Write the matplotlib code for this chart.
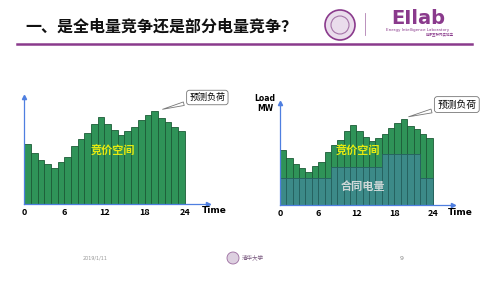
import matplotlib
matplotlib.use("Agg")
import matplotlib.pyplot as plt
from matplotlib.patches import Circle

plt.rcParams['font.family'] = ['Noto Sans CJK SC', 'DejaVu Sans']

# hourly forecast load (arbitrary MW units)
hours = list(range(24))
load = [60, 51, 44, 40, 36, 42, 47, 58, 65, 71, 80, 87,
        80, 74, 69, 73, 77, 84, 89, 93, 86, 82, 77, 73]
# contracted energy in the right panel
contract = [29, 29, 29, 29, 29, 29, 29, 29,
            41, 41, 41, 41, 41, 41, 41, 41,
            55, 55, 55, 55, 55, 55, 29, 29]
xticks = [0, 6, 12, 18, 24]

title = "一、是全电量竞争还是部分电量竞争？"
green = '#2f9358'
green_edge = '#1c5c37'
teal = '#3c8a88'
teal_edge = '#25605e'
blue = '#4f7fe0'
purple = '#8a3a8c'

fig = plt.figure(figsize=(4.88, 2.82), dpi=100)
W, H = 488, 282


def axes_px(x0, y0, x1, y1):
    # rectangle given in image pixels (top-left origin)
    return fig.add_axes([x0 / W, 1 - y1 / H, (x1 - x0) / W, (y1 - y0) / H])


def seal(x, y, r, fc, ec, lw):
    # round badge, position/radius in image pixels
    c = Circle((x / 100, (H - y) / 100), r / 100, transform=fig.dpi_scale_trans,
               fc=fc, ec=ec, lw=lw)
    fig.add_artist(c)


def style_axes(ax):
    for s in ['top', 'right']:
        ax.spines[s].set_visible(False)
    for s in ['left', 'bottom']:
        ax.spines[s].set_color(blue)
        ax.spines[s].set_linewidth(0.9)
    ax.set_yticks([])
    ax.set_xticks(xticks)
    ax.tick_params(axis='x', length=0, pad=3, labelsize=6.5)
    for lb in ax.get_xticklabels():
        lb.set_fontweight('bold')
    ax.plot(0, 1, marker='^', ms=3, color=blue, transform=ax.transAxes, clip_on=False)
    ax.plot(1, 0, marker='>', ms=3, color=blue, transform=ax.transAxes, clip_on=False)
    ax.patch.set_alpha(0)


# left panel: full-load competition
ax1 = axes_px(24.3, 97, 208, 204)
ax1.bar(hours, load, width=1, align='edge', color=green, edgecolor=green_edge, lw=0.6)
ax1.set_xlim(0, 27.5)
ax1.set_ylim(0, 107)
style_axes(ax1)
ax1.text(1.033, -0.065, "Time", transform=ax1.transAxes, fontsize=6.5,
         fontweight='bold', ha='center', va='center', family='DejaVu Sans')
ax1.text(13.3, 53, "竞价空间", color='#e6ea10', fontsize=8, fontweight='bold',
         ha='center', va='center')
ax1.annotate("预测负荷", xy=(20.3, 94), xytext=(27.4, 106.5), fontsize=6.5,
             ha='center', va='center', annotation_clip=False,
             bbox=dict(boxstyle='round,pad=0.3', fc='white', ec='#777777', lw=0.6),
             arrowprops=dict(arrowstyle='wedge,tail_width=0.4', fc='white',
                             ec='#777777', lw=0.6))

# right panel: partial competition with contracts
ax2 = axes_px(280, 102.7, 453, 205)
ax2.bar(hours, load, width=1, align='edge', color=green, edgecolor=green_edge, lw=0.6)
ax2.bar(hours, contract, width=1, align='edge', color=teal, edgecolor=teal_edge, lw=0.6)
ax2.set_xlim(0, 27.2)
ax2.set_ylim(0, 111)
style_axes(ax2)
ax2.text(1.04, -0.075, "Time", transform=ax2.transAxes, fontsize=6.5,
         fontweight='bold', ha='center', va='center', family='DejaVu Sans')
ax2.text(-0.087, 0.99, "Load\nMW", transform=ax2.transAxes, fontsize=5.5,
         fontweight='bold', ha='center', va='center', linespacing=1.1,
         family='DejaVu Sans')
ax2.text(12.3, 58, "竞价空间", color='#e6ea10', fontsize=8, fontweight='bold',
         ha='center', va='center')
ax2.text(13, 20.5, "合同电量", color='#cfd8d8', fontsize=8, fontweight='bold',
         ha='center', va='center')
ax2.annotate("预测负荷", xy=(19.8, 95), xytext=(27.8, 109), fontsize=7,
             ha='center', va='center', annotation_clip=False,
             bbox=dict(boxstyle='round,pad=0.3', fc='white', ec='#777777', lw=0.6),
             arrowprops=dict(arrowstyle='wedge,tail_width=0.4', fc='white',
                             ec='#777777', lw=0.6))

# slide header
fig.text(25 / W, 1 - 27 / H, title, fontsize=11.5, fontweight='bold',
         ha='left', va='center', color='#111111')
fig.add_artist(plt.Line2D([17 / W, 472 / W], [1 - 44.3 / H, 1 - 44.3 / H],
                          color=purple, lw=1.8))
seal(340, 25, 15, '#eadcec', purple, 1.2)
seal(340, 25, 9, 'none', '#a574a8', 0.8)
fig.add_artist(plt.Line2D([365 / W, 365 / W], [1 - 13 / H, 1 - 35 / H],
                          color='#b080b2', lw=0.6))
fig.text(418 / W, 1 - 18.5 / H, "EIlab", fontsize=14, fontweight='bold',
         color=purple, ha='center', va='center', family='DejaVu Sans')
fig.text(418 / W, 1 - 30 / H, "Energy Intelligence Laboratory", fontsize=3,
         color=purple, ha='center', va='center', family='DejaVu Sans')
fig.text(440 / W, 1 - 34 / H, "能源互联网实验室", fontsize=2.5,
         color=purple, ha='center', va='center')

# footer
fig.text(95 / W, 1 - 258 / H, "2019/1/11", fontsize=3.5, color='#999999',
         ha='center', va='center', family='DejaVu Sans')
seal(233, 258, 6, '#ddd0e0', '#9a6a9e', 0.6)
fig.text(253 / W, 1 - 257 / H, "清华大学", fontsize=4, color='#7a5a80',
         ha='center', va='center')
fig.text(402 / W, 1 - 258 / H, "9", fontsize=4.5, color='#888888',
         ha='center', va='center', family='DejaVu Sans')

fig.savefig("out.png", dpi=100)
